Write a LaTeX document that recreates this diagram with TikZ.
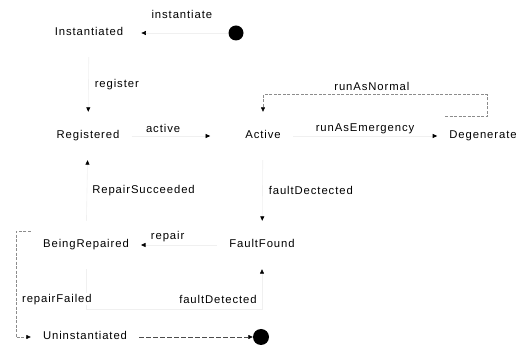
\documentclass[tikz,border=0pt]{standalone}
\usepackage{fontspec}
\setmainfont[LetterSpace=8]{Liberation Sans}
\usetikzlibrary{arrows.meta,calc}
\begin{document}
\begin{tikzpicture}[x=1pt,y=-1pt,
  txt/.style={font=\fontsize{11.3}{13}\selectfont},
  state/.style={txt, inner xsep=12pt, inner ysep=19pt, text height=8pt, text depth=2pt},
  lbl/.style={txt, inner sep=1pt},
  pseudo/.style={circle, fill=black, inner sep=0pt, minimum size=15pt},
  conn/.style={draw=black!6, line width=0.6pt, -{Triangle[length=4.5pt,width=4pt,color=black]}},
  dconn/.style={conn, draw=black!45, dash pattern=on 3pt off 1.5pt},
  dconnb/.style={conn, draw=black!70, dash pattern=on 5pt off 2pt}]
\useasboundingbox (0,0) rectangle (520,352);
\node[pseudo] (init) at (236,33) {};
\node[state] (inst) at (89,33) {Instantiated};
\node[state] (reg) at (88,136) {Registered};
\node[state] (act) at (263,136) {Active};
\node[state] (deg) at (483,136) {Degenerate};
\node[state] (ff) at (262,245) {FaultFound};
\node[state] (br) at (86,245) {BeingRepaired};
\node[state] (un) at (85,337) {Uninstantiated};
\node[pseudo, minimum size=16pt] (fin) at (261,337) {};

\draw[conn, shorten >=6pt] (init) -- node[lbl, above=13pt]{instantiate} (inst);
\draw[conn] (inst) -- node[lbl, right=5pt]{register} (reg);
\draw[conn, shorten >=23pt] (reg) -- node[lbl, pos=0.31, above=2pt]{active} (act);
\draw[conn] (act) -- node[lbl, above=1pt]{runAsEmergency} (deg);
\draw[dconn] ($(deg.north)+(-38,5)$) -- ++(42,0) |- node[lbl, pos=0.757, above=3pt]{runAsNormal} ($(act.north)+(0,-17)$) -- (act.north);
\draw[conn] (act) -- node[lbl, right=5pt]{faultDectected} (ff);
\draw[conn] (ff) -- node[lbl, pos=0.65, above=2pt]{repair} (br);
\draw[conn] (br) -- node[lbl, right=4pt]{RepairSucceeded} (reg);
\draw[conn] (br.south) -- ++(0,40) -| node[lbl, pos=0.625, left=4pt]{faultDetected} (ff.south);
\draw[dconn] ($(br.north west)+(0,11)$) -| node[lbl, pos=0.82, anchor=west, xshift=5pt, fill=white]{repairFailed} ($(un.west)+(-15,0)$) -- (un.west);
\draw[dconnb] (un) -- (fin);
\end{tikzpicture}
\end{document}
